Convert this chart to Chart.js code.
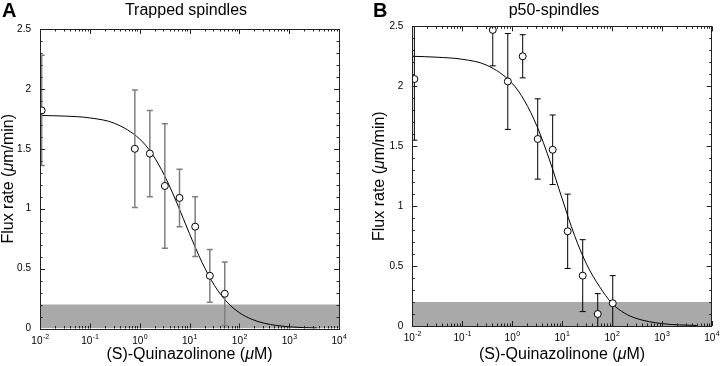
<!DOCTYPE html>
<html>
<head>
<meta charset="utf-8">
<script src="https://cdn.jsdelivr.net/npm/chart.js@4"></script>
<style>
body { margin: 0; background: #fff; }
#wrap { position: relative; width: 720px; height: 366px; }
canvas { position: absolute; top: 0; }
</style>
</head>
<body>
<div id="wrap">
  <canvas id="chartA" width="360" height="366" style="left:0"></canvas>
  <canvas id="chartB" width="360" height="366" style="left:360px"></canvas>
</div>
<script>
// panel A - trapped spindles (conc in uM, flux in um/min)
var concA = [0.0108, 0.8, 1.6, 3.2, 6.3, 13, 25.6, 51];
var fluxA = [1.82, 1.50, 1.46, 1.19, 1.09, 0.85, 0.44, 0.29];
var errA = [0.46, 0.49, 0.36, 0.52, 0.24, 0.25, 0.22, 0.265];
var fitConcA = [0.01, 0.0316, 0.1, 0.316, 1, 1.78, 3.16, 5.62, 10, 17.8, 31.6, 56.2, 100, 178, 316, 1000, 3650];
var fitFluxA = [1.778, 1.773, 1.758, 1.712, 1.582, 1.457, 1.276, 1.045, 0.791, 0.553, 0.360, 0.222, 0.132, 0.077, 0.044, 0.014, 0.004];

// panel B - p50 spindles
var concB = [0.011, 0.41, 0.82, 1.63, 3.26, 6.5, 13, 26, 52, 104];
var fluxB = [2.06, 2.47, 2.04, 2.25, 1.56, 1.47, 0.79, 0.42, 0.10, 0.19];
var errB = [0.51, 0.30, 0.40, 0.18, 0.335, 0.29, 0.31, 0.30, 0.17, 0.23];
var fitConcB = [0.01, 0.0316, 0.1, 0.316, 1, 1.78, 3.16, 5.62, 10, 17.8, 31.6, 56.2, 100, 178, 316, 1000, 5000];
var fitFluxB = [2.25, 2.242, 2.225, 2.174, 2.025, 1.878, 1.665, 1.385, 1.066, 0.756, 0.51, 0.33, 0.19, 0.108, 0.062, 0.020, 0.004];

// axes
var decadeTicks = [0.01, 0.1, 1, 10, 100, 1000, 10000];
var decadeExps = ['-2', '-1', '0', '1', '2', '3', '4'];
var yTicks = [0, 0.5, 1, 1.5, 2, 2.5];
var yTickLabels = ['0', '0.5', '1', '1.5', '2', '2.5'];
var bandLevel = 0.2;

var FONT = '"Liberation Sans", Arial, Helvetica, sans-serif';

function xy(xs, ys) {
    var out = [];
    for (var i = 0; i < xs.length; i++) out.push({x: xs[i], y: ys[i]});
    return out;
}

// draws text made of pieces, some of them italic, centred on x
function mixedText(ctx, parts, size, x, y) {
    var widths = [], tw = 0, i;
    for (i = 0; i < parts.length; i++) {
        ctx.font = parts[i][1] + size + 'px ' + FONT;
        widths.push(ctx.measureText(parts[i][0]).width);
        tw += widths[i];
    }
    var xx = x - tw / 2;
    for (i = 0; i < parts.length; i++) {
        ctx.font = parts[i][1] + size + 'px ' + FONT;
        ctx.fillText(parts[i][0], xx, y);
        xx += widths[i];
    }
}

var decorPlugin = {
    id: 'decor',
    beforeDatasetDraw: function (chart, args, o) {
        if (args.index !== 0) return;
        // error bars, drawn just under the circles
        var ctx = chart.ctx, xs = chart.scales.x, ys = chart.scales.y, a = chart.chartArea;
        ctx.save();
        ctx.beginPath();
        ctx.rect(a.left, a.top, a.right - a.left, a.bottom - a.top);
        ctx.clip();
        ctx.strokeStyle = o.errColor;
        ctx.lineWidth = o.errWidth;
        for (var i = 0; i < o.conc.length; i++) {
            var px = xs.getPixelForValue(o.conc[i]);
            var top = ys.getPixelForValue(o.flux[i] + o.err[i]);
            var bot = ys.getPixelForValue(o.flux[i] - o.err[i]);
            ctx.beginPath();
            ctx.moveTo(px, top); ctx.lineTo(px, bot);
            ctx.moveTo(px - 3, top); ctx.lineTo(px + 3, top);
            ctx.moveTo(px - 3, bot); ctx.lineTo(px + 3, bot);
            ctx.stroke();
        }
        ctx.restore();
    },
    afterDraw: function (chart, args, o) {
        var ctx = chart.ctx, xs = chart.scales.x, ys = chart.scales.y, a = chart.chartArea;
        var i, m, p;
        ctx.save();
        // frame
        ctx.strokeStyle = '#222';
        ctx.lineWidth = 1;
        ctx.strokeRect(Math.round(a.left) + 0.5, Math.round(a.top) + 0.5,
            Math.round(a.right - a.left), Math.round(a.bottom - a.top));
        // inward ticks
        ctx.beginPath();
        for (i = 0; i < decadeTicks.length; i++) {
            p = Math.round(xs.getPixelForValue(decadeTicks[i])) + 0.5;
            ctx.moveTo(p, a.bottom); ctx.lineTo(p, a.bottom - 5);
            ctx.moveTo(p, a.top); ctx.lineTo(p, a.top + 5);
            if (i < decadeTicks.length - 1) {
                for (m = 2; m <= 9; m++) {
                    p = Math.round(xs.getPixelForValue(decadeTicks[i] * m)) + 0.5;
                    ctx.moveTo(p, a.bottom); ctx.lineTo(p, a.bottom - 2.5);
                    ctx.moveTo(p, a.top); ctx.lineTo(p, a.top + 2.5);
                }
            }
        }
        for (i = 0; i <= 25; i++) {
            var len = (i % 5 === 0) ? 5 : 2.5;
            p = Math.round(ys.getPixelForValue(i / 10)) + 0.5;
            ctx.moveTo(a.left, p); ctx.lineTo(a.left + len, p);
            ctx.moveTo(a.right, p); ctx.lineTo(a.right - len, p);
        }
        ctx.stroke();

        ctx.fillStyle = '#000';
        // y tick labels
        ctx.font = '10px ' + FONT;
        ctx.textAlign = 'right';
        ctx.textBaseline = 'middle';
        for (i = 0; i < yTicks.length; i++) {
            ctx.fillText(yTickLabels[i], a.left - 9, ys.getPixelForValue(yTicks[i]));
        }
        // x tick labels 10^n
        ctx.textAlign = 'left';
        ctx.textBaseline = 'alphabetic';
        for (i = 0; i < decadeTicks.length; i++) {
            p = xs.getPixelForValue(decadeTicks[i]);
            ctx.font = '10px ' + FONT;
            var wb = ctx.measureText('10').width;
            ctx.font = '7px ' + FONT;
            var we = ctx.measureText(decadeExps[i]).width;
            var x0 = p - (wb + we) / 2;
            ctx.font = '10px ' + FONT;
            ctx.fillText('10', x0, a.bottom + 15);
            ctx.font = '7px ' + FONT;
            ctx.fillText(decadeExps[i], x0 + wb + 0.5, a.bottom + 10);
        }
        // x axis title with italic mu
        mixedText(ctx, [['(S)-Quinazolinone (', ''], ['\u03bc', 'italic '], ['M)', '']], 16,
            (a.left + a.right) / 2, 359);
        // y axis title (rotated)
        ctx.save();
        ctx.translate(a.left - o.yTitleGap, (a.top + a.bottom) / 2);
        ctx.rotate(-Math.PI / 2);
        ctx.textBaseline = 'middle';
        mixedText(ctx, [['Flux rate (', ''], ['\u03bc', 'italic '], ['m/min)', '']], 16, 0, 0);
        ctx.restore();
        // panel title and letter
        ctx.textAlign = 'center';
        ctx.textBaseline = 'middle';
        ctx.font = '16px ' + FONT;
        ctx.fillText(o.title, o.titleX, 11);
        ctx.textAlign = 'left';
        ctx.font = 'bold 20px ' + FONT;
        ctx.fillText(o.letter, o.letterX, 11);
        ctx.restore();
    }
};

function makeChart(canvasId, conc, flux, err, fitConc, fitFlux, deco, pad) {
    deco.conc = conc; deco.flux = flux; deco.err = err;
    var ctx = document.getElementById(canvasId).getContext('2d');
    return new Chart(ctx, {
        type: 'scatter',
        data: {
            datasets: [
                {
                    data: xy(conc, flux),
                    showLine: false,
                    pointStyle: 'circle',
                    pointRadius: 3.5,
                    borderWidth: 1,
                    borderColor: '#000',
                    backgroundColor: '#fff'
                },
                {
                    data: xy(fitConc, fitFlux),
                    showLine: true,
                    pointRadius: 0,
                    borderWidth: 1,
                    borderColor: '#000',
                    cubicInterpolationMode: 'monotone'
                },
                {
                    data: xy([decadeTicks[0], decadeTicks[decadeTicks.length - 1]], [bandLevel, bandLevel]),
                    showLine: true,
                    pointRadius: 0,
                    borderWidth: 0,
                    borderColor: 'rgba(0,0,0,0)',
                    backgroundColor: '#a9a9a9',
                    fill: 'origin'
                }
            ]
        },
        options: {
            responsive: false,
            animation: false,
            devicePixelRatio: 1,
            events: [],
            layout: {padding: pad},
            plugins: {
                legend: {display: false},
                tooltip: {enabled: false},
                decor: deco
            },
            scales: {
                x: {type: 'logarithmic', min: 0.01, max: 10000, display: false},
                y: {type: 'linear', min: 0, max: 2.5, display: false}
            }
        },
        plugins: [decorPlugin]
    });
}

makeChart('chartA', concA, fluxA, errA, fitConcA, fitFluxA,
    {title: 'Trapped spindles', titleX: 186, letter: 'A', letterX: 2, errColor: '#7f7f7f', errWidth: 1.5, yTitleGap: 31},
    {left: 40, right: 21, top: 29, bottom: 37.5});
makeChart('chartB', concB, fluxB, errB, fitConcB, fitFluxB,
    {title: 'p50-spindles', titleX: 194, letter: 'B', letterX: 13, errColor: '#000', errWidth: 1, yTitleGap: 33},
    {left: 52.3, right: 8.3, top: 26.3, bottom: 40});
</script>
</body>
</html>
